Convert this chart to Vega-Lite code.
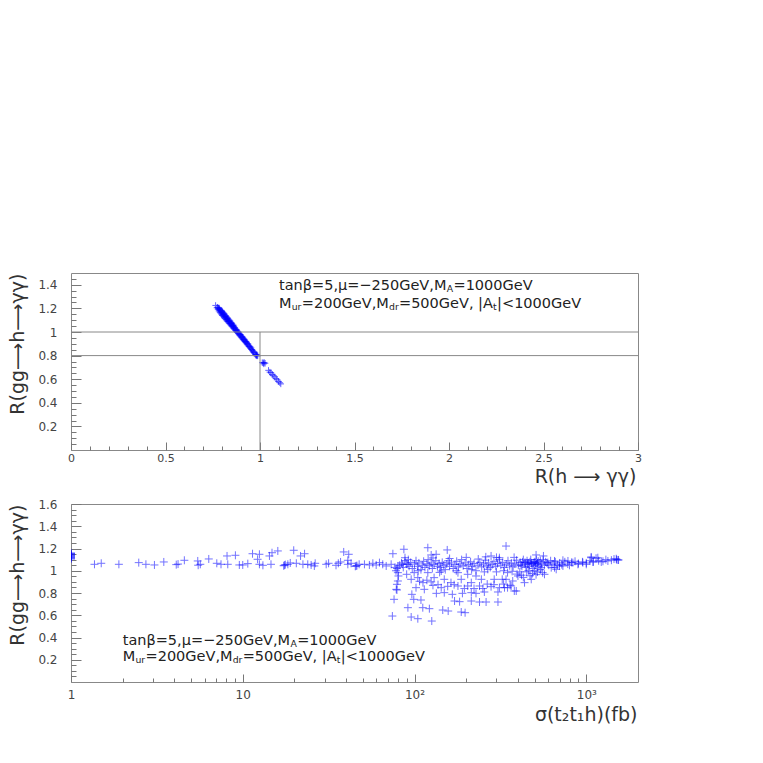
{
"$schema":"https://vega.github.io/schema/vega-lite/v6.json",
"padding":{"left":7,"top":272,"right":5,"bottom":5},
"background":"white",
"spacing":54,
"bounds":"flush",
"config":{"view":{"stroke":"#888","strokeWidth":1},
"axis":{"grid":false,"labelFont":"DejaVu Sans","labelFontSize":12,"labelColor":"#444","titleFont":"DejaVu Sans","titleFontSize":19,"titleFontWeight":"normal","titleColor":"#333","tickColor":"#777","domainColor":"#888","labelFlush":false,"labelOverlap":false}},
"vconcat":[
{"width":567,"height":177,
"resolve":{"axis":{"x":"independent","y":"independent"}},
"layer":[
{"data":{"values":[
{"r_gamma":0.765,"r_gg":1.225},{"r_gamma":0.772,"r_gg":1.205},{"r_gamma":0.775,"r_gg":1.21},{"r_gamma":0.778,"r_gg":1.19},{"r_gamma":0.78,"r_gg":1.2},{"r_gamma":0.782,"r_gg":1.205},{"r_gamma":0.783,"r_gg":1.178},{"r_gamma":0.785,"r_gg":1.2},{"r_gamma":0.786,"r_gg":1.19},{"r_gamma":0.788,"r_gg":1.168},{"r_gamma":0.79,"r_gg":1.18},{"r_gamma":0.792,"r_gg":1.16},{"r_gamma":0.793,"r_gg":1.185},{"r_gamma":0.795,"r_gg":1.172},{"r_gamma":0.797,"r_gg":1.15},{"r_gamma":0.798,"r_gg":1.178},{"r_gamma":0.8,"r_gg":1.165},{"r_gamma":0.8,"r_gg":1.14},{"r_gamma":0.802,"r_gg":1.17},{"r_gamma":0.803,"r_gg":1.155},{"r_gamma":0.805,"r_gg":1.135},{"r_gamma":0.807,"r_gg":1.148},{"r_gamma":0.808,"r_gg":1.16},{"r_gamma":0.81,"r_gg":1.125},{"r_gamma":0.81,"r_gg":1.145},{"r_gamma":0.812,"r_gg":1.152},{"r_gamma":0.813,"r_gg":1.132},{"r_gamma":0.815,"r_gg":1.115},{"r_gamma":0.817,"r_gg":1.128},{"r_gamma":0.818,"r_gg":1.14},{"r_gamma":0.82,"r_gg":1.105},{"r_gamma":0.82,"r_gg":1.122},{"r_gamma":0.822,"r_gg":1.132},{"r_gamma":0.823,"r_gg":1.11},{"r_gamma":0.825,"r_gg":1.095},{"r_gamma":0.827,"r_gg":1.112},{"r_gamma":0.828,"r_gg":1.12},{"r_gamma":0.83,"r_gg":1.088},{"r_gamma":0.83,"r_gg":1.102},{"r_gamma":0.832,"r_gg":1.11},{"r_gamma":0.833,"r_gg":1.092},{"r_gamma":0.835,"r_gg":1.078},{"r_gamma":0.837,"r_gg":1.09},{"r_gamma":0.838,"r_gg":1.1},{"r_gamma":0.84,"r_gg":1.07},{"r_gamma":0.84,"r_gg":1.085},{"r_gamma":0.842,"r_gg":1.092},{"r_gamma":0.843,"r_gg":1.074},{"r_gamma":0.845,"r_gg":1.06},{"r_gamma":0.847,"r_gg":1.072},{"r_gamma":0.848,"r_gg":1.08},{"r_gamma":0.85,"r_gg":1.05},{"r_gamma":0.85,"r_gg":1.065},{"r_gamma":0.852,"r_gg":1.07},{"r_gamma":0.853,"r_gg":1.055},{"r_gamma":0.855,"r_gg":1.042},{"r_gamma":0.857,"r_gg":1.054},{"r_gamma":0.858,"r_gg":1.06},{"r_gamma":0.86,"r_gg":1.032},{"r_gamma":0.86,"r_gg":1.046},{"r_gamma":0.862,"r_gg":1.05},{"r_gamma":0.863,"r_gg":1.036},{"r_gamma":0.865,"r_gg":1.024},{"r_gamma":0.867,"r_gg":1.036},{"r_gamma":0.87,"r_gg":1.014},{"r_gamma":0.87,"r_gg":1.027},{"r_gamma":0.873,"r_gg":1.017},{"r_gamma":0.875,"r_gg":1.005},{"r_gamma":0.877,"r_gg":1.017},{"r_gamma":0.88,"r_gg":0.995},{"r_gamma":0.88,"r_gg":1.008},{"r_gamma":0.883,"r_gg":0.998},{"r_gamma":0.885,"r_gg":0.986},{"r_gamma":0.887,"r_gg":0.998},{"r_gamma":0.89,"r_gg":0.976},{"r_gamma":0.89,"r_gg":0.988},{"r_gamma":0.893,"r_gg":0.978},{"r_gamma":0.895,"r_gg":0.967},{"r_gamma":0.897,"r_gg":0.978},{"r_gamma":0.9,"r_gg":0.958},{"r_gamma":0.9,"r_gg":0.969},{"r_gamma":0.903,"r_gg":0.958},{"r_gamma":0.905,"r_gg":0.948},{"r_gamma":0.907,"r_gg":0.958},{"r_gamma":0.91,"r_gg":0.938},{"r_gamma":0.91,"r_gg":0.95},{"r_gamma":0.913,"r_gg":0.94},{"r_gamma":0.915,"r_gg":0.929},{"r_gamma":0.917,"r_gg":0.938},{"r_gamma":0.92,"r_gg":0.92},{"r_gamma":0.92,"r_gg":0.93},{"r_gamma":0.923,"r_gg":0.92},{"r_gamma":0.925,"r_gg":0.91},{"r_gamma":0.927,"r_gg":0.918},{"r_gamma":0.93,"r_gg":0.9},{"r_gamma":0.93,"r_gg":0.91},{"r_gamma":0.933,"r_gg":0.9},{"r_gamma":0.935,"r_gg":0.89},{"r_gamma":0.937,"r_gg":0.898},{"r_gamma":0.94,"r_gg":0.88},{"r_gamma":0.943,"r_gg":0.882},{"r_gamma":0.945,"r_gg":0.872},{"r_gamma":0.948,"r_gg":0.875},{"r_gamma":0.95,"r_gg":0.862},{"r_gamma":0.953,"r_gg":0.865},{"r_gamma":0.955,"r_gg":0.852},{"r_gamma":0.958,"r_gg":0.85},{"r_gamma":0.96,"r_gg":0.842},{"r_gamma":0.963,"r_gg":0.838},{"r_gamma":0.965,"r_gg":0.83},{"r_gamma":0.968,"r_gg":0.828},{"r_gamma":0.97,"r_gg":0.82},{"r_gamma":0.975,"r_gg":0.81},{"r_gamma":0.978,"r_gg":0.805},{"r_gamma":0.98,"r_gg":0.8},{"r_gamma":0.982,"r_gg":0.803},{"r_gamma":0.985,"r_gg":0.797},{"r_gamma":0.983,"r_gg":0.81},{"r_gamma":0.988,"r_gg":0.8},{"r_gamma":1.012,"r_gg":0.74},{"r_gamma":1.017,"r_gg":0.738},{"r_gamma":1.022,"r_gg":0.742},{"r_gamma":1.027,"r_gg":0.735},{"r_gamma":1.02,"r_gg":0.73},{"r_gamma":1.045,"r_gg":0.675},{"r_gamma":1.052,"r_gg":0.66},{"r_gamma":1.058,"r_gg":0.655},{"r_gamma":1.065,"r_gg":0.64},{"r_gamma":1.07,"r_gg":0.63},{"r_gamma":1.078,"r_gg":0.62},{"r_gamma":1.085,"r_gg":0.605},{"r_gamma":1.09,"r_gg":0.595},{"r_gamma":1.098,"r_gg":0.58},{"r_gamma":1.105,"r_gg":0.57},{"r_gamma":1.11,"r_gg":0.56}
]},
"mark":{"type":"point","shape":"M-1,0L1,0M0,-1L0,1","filled":false,"color":"#0000ff","strokeWidth":1,"size":42,"opacity":0.6},
"encoding":{
"x":{"field":"r_gamma","type":"quantitative","scale":{"domain":[0,3],"nice":false,"zero":false},
 "axis":{"orient":"bottom","values":[0,0.5,1,1.5,2,2.5,3],"format":"~g","ticks":false,"domain":false,"labelPadding":2,"labelFontSize":11,"title":"R(h ⟶ γγ)","titleX":565,"titleY":32,"titleAlign":"right","titleBaseline":"alphabetic"}},
"y":{"field":"r_gg","type":"quantitative","scale":{"domain":[0,1.5],"nice":false,"zero":false},
 "axis":{"orient":"left","values":[0.2,0.4,0.6,0.8,1,1.2,1.4],"format":"~g","ticks":false,"domain":false,"labelPadding":14,"title":"R(gg⟶h⟶γγ)","titleX":-48,"titleY":0,"titleAngle":-90,"titleAlign":"right","titleBaseline":"alphabetic"}}}},
{"data":{"values":[{}]},"mark":{"type":"rule","color":"#888","strokeWidth":1},
 "encoding":{"y":{"datum":1,"axis":{"orient":"left","values":[0.2,0.4,0.6,0.8,1,1.2,1.4],"labels":false,"domain":false,"tickSize":-10,"title":null}}}},
{"data":{"values":[{}]},"mark":{"type":"rule","color":"#888","strokeWidth":1},
 "encoding":{"y":{"datum":0.8,"axis":null}}},
{"data":{"values":[{}]},"mark":{"type":"rule","color":"#888","strokeWidth":1},
 "encoding":{"x":{"datum":1,"axis":{"orient":"bottom","values":[0,0.5,1,1.5,2,2.5,3],"labels":false,"domain":false,"tickSize":-8,"title":null}},
 "y":{"datum":0,"axis":{"orient":"left","values":[0.05,0.1,0.15,0.25,0.3,0.35,0.45,0.5,0.55,0.65,0.7,0.75,0.85,0.9,0.95,1.05,1.1,1.15,1.25,1.3,1.35,1.45],"labels":false,"domain":false,"tickSize":-5,"title":null}},
 "y2":{"datum":1}}},
{"data":{"values":[{}]},"mark":{"type":"text","text":"tanβ=5,μ=−250GeV,M","font":"DejaVu Sans","fontSize":14.5,"align":"left","baseline":"middle","color":"#222","dx":0},
 "encoding":{"x":{"datum":1.1005,"axis":{"orient":"bottom","values":[0.1,0.2,0.3,0.4,0.6,0.7,0.8,0.9,1.1,1.2,1.3,1.4,1.6,1.7,1.8,1.9,2.1,2.2,2.3,2.4,2.6,2.7,2.8,2.9],"labels":false,"domain":false,"tickSize":-4,"title":null}},"y":{"datum":1.39,"axis":null}}},
{"data":{"values":[{}]},"mark":{"type":"text","text":"A","font":"DejaVu Sans","fontSize":9.3,"align":"left","baseline":"middle","color":"#222","dx":167.8,"dy":3},
 "encoding":{"x":{"datum":1.1005,"axis":null},"y":{"datum":1.39,"axis":null}}},
{"data":{"values":[{}]},"mark":{"type":"text","text":"=1000GeV","font":"DejaVu Sans","fontSize":14.5,"align":"left","baseline":"middle","color":"#222","dx":174.5},
 "encoding":{"x":{"datum":1.1005,"axis":null},"y":{"datum":1.39,"axis":null}}},
{"data":{"values":[{}]},"mark":{"type":"text","text":"M","font":"DejaVu Sans","fontSize":14.5,"align":"left","baseline":"middle","color":"#222","dx":0},
 "encoding":{"x":{"datum":1.1005,"axis":null},"y":{"datum":1.237,"axis":null}}},
{"data":{"values":[{}]},"mark":{"type":"text","text":"ur","font":"DejaVu Sans","fontSize":9.3,"align":"left","baseline":"middle","color":"#222","dx":12.7,"dy":3},
 "encoding":{"x":{"datum":1.1005,"axis":null},"y":{"datum":1.237,"axis":null}}},
{"data":{"values":[{}]},"mark":{"type":"text","text":"=200GeV,M","font":"DejaVu Sans","fontSize":14.5,"align":"left","baseline":"middle","color":"#222","dx":22.8},
 "encoding":{"x":{"datum":1.1005,"axis":null},"y":{"datum":1.237,"axis":null}}},
{"data":{"values":[{}]},"mark":{"type":"text","text":"dr","font":"DejaVu Sans","fontSize":9.3,"align":"left","baseline":"middle","color":"#222","dx":110,"dy":3},
 "encoding":{"x":{"datum":1.1005,"axis":null},"y":{"datum":1.237,"axis":null}}},
{"data":{"values":[{}]},"mark":{"type":"text","text":"=500GeV, |A","font":"DejaVu Sans","fontSize":14.5,"align":"left","baseline":"middle","color":"#222","dx":120},
 "encoding":{"x":{"datum":1.1005,"axis":null},"y":{"datum":1.237,"axis":null}}},
{"data":{"values":[{}]},"mark":{"type":"text","text":"t","font":"DejaVu Sans","fontSize":9.3,"align":"left","baseline":"middle","color":"#222","dx":214.1,"dy":3},
 "encoding":{"x":{"datum":1.1005,"axis":null},"y":{"datum":1.237,"axis":null}}},
{"data":{"values":[{}]},"mark":{"type":"text","text":"|<1000GeV","font":"DejaVu Sans","fontSize":14.5,"align":"left","baseline":"middle","color":"#222","dx":218.1},
 "encoding":{"x":{"datum":1.1005,"axis":null},"y":{"datum":1.237,"axis":null}}}
]},
{"width":567,"height":178,
"resolve":{"axis":{"x":"independent","y":"independent"}},
"layer":[
{"data":{"values":[
{"sigma":1.0,"r_gg":1.105},{"sigma":1.0,"r_gg":1.112},{"sigma":1.0,"r_gg":1.118},{"sigma":1.0,"r_gg":1.124},{"sigma":1.0,"r_gg":1.13},{"sigma":1.0,"r_gg":1.136},{"sigma":1.0,"r_gg":1.142},{"sigma":1.0,"r_gg":1.148},{"sigma":1.0,"r_gg":1.155},{"sigma":1.0,"r_gg":1.16},
{"sigma":1.37,"r_gg":1.058},{"sigma":1.5,"r_gg":1.067},{"sigma":1.9,"r_gg":1.058},{"sigma":2.48,"r_gg":1.073},{"sigma":2.73,"r_gg":1.058},{"sigma":3.06,"r_gg":1.052},{"sigma":3.47,"r_gg":1.079},{"sigma":4.1,"r_gg":1.055},{"sigma":4.2,"r_gg":1.06},{"sigma":4.57,"r_gg":1.094},{"sigma":5.47,"r_gg":1.088},{"sigma":5.5,"r_gg":1.05},{"sigma":5.66,"r_gg":1.058},{"sigma":6.34,"r_gg":1.106},{"sigma":7.06,"r_gg":1.067},{"sigma":7.47,"r_gg":1.058},{"sigma":8.18,"r_gg":1.058},{"sigma":8.1,"r_gg":1.133},{"sigma":9.06,"r_gg":1.139},{"sigma":9.55,"r_gg":1.052},{"sigma":10.0,"r_gg":1.052},{"sigma":10.7,"r_gg":1.064},{"sigma":11.4,"r_gg":1.153},{"sigma":12.2,"r_gg":1.103},{"sigma":12.5,"r_gg":1.148},{"sigma":12.5,"r_gg":1.058},{"sigma":13.1,"r_gg":1.049},{"sigma":14.3,"r_gg":1.133},{"sigma":14.8,"r_gg":1.162},{"sigma":14.6,"r_gg":1.058},{"sigma":16.0,"r_gg":1.178},{"sigma":17.3,"r_gg":1.045},{"sigma":17.5,"r_gg":1.05},{"sigma":17.7,"r_gg":1.055},{"sigma":18.3,"r_gg":1.058},{"sigma":18.9,"r_gg":1.07},{"sigma":19.8,"r_gg":1.184},{"sigma":20.5,"r_gg":1.067},{"sigma":21.7,"r_gg":1.133},{"sigma":22.9,"r_gg":1.153},{"sigma":22.4,"r_gg":1.058},{"sigma":23.9,"r_gg":1.058},{"sigma":25.0,"r_gg":1.052},{"sigma":26.4,"r_gg":1.067},{"sigma":26.1,"r_gg":1.043},{"sigma":30.6,"r_gg":1.058},{"sigma":31.6,"r_gg":1.067},{"sigma":34.9,"r_gg":1.049},{"sigma":36.0,"r_gg":1.067},{"sigma":37.1,"r_gg":1.079},{"sigma":38.7,"r_gg":1.169},{"sigma":41.4,"r_gg":1.148},{"sigma":40.9,"r_gg":1.094},{"sigma":40.9,"r_gg":1.058},{"sigma":42.7,"r_gg":1.067},{"sigma":45.2,"r_gg":1.04},{"sigma":45.7,"r_gg":1.043},{"sigma":46.2,"r_gg":1.046},{"sigma":47.6,"r_gg":1.058},{"sigma":51.1,"r_gg":1.058},{"sigma":54.6,"r_gg":1.052},{"sigma":57.2,"r_gg":1.067},{"sigma":59.8,"r_gg":1.052},{"sigma":62.5,"r_gg":1.073},{"sigma":65.3,"r_gg":1.058},{"sigma":68.4,"r_gg":1.043},{"sigma":73.1,"r_gg":1.058},{"sigma":74.8,"r_gg":1.153},{"sigma":80.0,"r_gg":1.043},{"sigma":85.3,"r_gg":1.058},{"sigma":86.7,"r_gg":1.193},{"sigma":88.0,"r_gg":1.117},{"sigma":91.5,"r_gg":1.058},
{"sigma":74.3,"r_gg":0.593},{"sigma":76.0,"r_gg":0.743},{"sigma":78.3,"r_gg":0.833},{"sigma":80,"r_gg":0.908},{"sigma":80.6,"r_gg":0.953},{"sigma":80,"r_gg":0.983},{"sigma":79,"r_gg":0.878},{"sigma":79,"r_gg":0.827},{"sigma":78,"r_gg":1.0},{"sigma":79,"r_gg":1.02},{"sigma":77,"r_gg":1.03},
{"sigma":119.5,"r_gg":1.207},{"sigma":133.6,"r_gg":1.148},{"sigma":125,"r_gg":1.142},{"sigma":155,"r_gg":1.187},{"sigma":341,"r_gg":1.222},{"sigma":279,"r_gg":1.133},{"sigma":312,"r_gg":1.117},
{"sigma":91.5,"r_gg":0.668},{"sigma":95.6,"r_gg":0.584},{"sigma":104.5,"r_gg":0.569},{"sigma":96.5,"r_gg":0.788},{"sigma":99,"r_gg":0.743},{"sigma":109,"r_gg":0.737},{"sigma":111.7,"r_gg":0.668},{"sigma":122,"r_gg":0.659},{"sigma":126,"r_gg":0.548},{"sigma":146,"r_gg":0.647},{"sigma":157,"r_gg":0.638},{"sigma":171,"r_gg":0.728},{"sigma":183,"r_gg":0.722},{"sigma":187,"r_gg":0.629},{"sigma":197,"r_gg":0.623},{"sigma":214,"r_gg":0.728},{"sigma":239,"r_gg":0.719},{"sigma":261,"r_gg":0.719},{"sigma":306,"r_gg":0.719},
{"sigma":134,"r_gg":0.797},{"sigma":149,"r_gg":0.803},{"sigma":166,"r_gg":0.788},{"sigma":190,"r_gg":0.797},{"sigma":214,"r_gg":0.803},{"sigma":228,"r_gg":0.797},{"sigma":255,"r_gg":0.809},{"sigma":306,"r_gg":0.809},
{"sigma":114,"r_gg":0.833},{"sigma":112,"r_gg":0.893},{"sigma":102,"r_gg":0.848},{"sigma":128,"r_gg":0.869},{"sigma":143,"r_gg":0.848},{"sigma":179,"r_gg":0.863},{"sigma":187,"r_gg":0.923},{"sigma":204,"r_gg":0.863},{"sigma":239,"r_gg":0.863},{"sigma":279,"r_gg":0.857},{"sigma":291,"r_gg":0.923},{"sigma":324,"r_gg":0.923},{"sigma":348,"r_gg":0.848},{"sigma":312,"r_gg":0.848},{"sigma":391,"r_gg":0.818},{"sigma":373,"r_gg":0.908},{"sigma":400,"r_gg":0.953},{"sigma":348,"r_gg":0.983},{"sigma":267,"r_gg":1.013},{"sigma":228,"r_gg":0.953},{"sigma":214,"r_gg":0.893},{"sigma":163,"r_gg":0.893},{"sigma":149,"r_gg":0.923},{"sigma":130,"r_gg":0.938},{"sigma":104.5,"r_gg":0.938},{"sigma":95.6,"r_gg":0.923},{"sigma":90,"r_gg":0.968},{"sigma":99.5,"r_gg":0.983},{"sigma":119.5,"r_gg":0.983},{"sigma":143,"r_gg":0.998},{"sigma":179,"r_gg":0.983},{"sigma":204,"r_gg":0.968},{"sigma":245,"r_gg":0.923},
{"sigma":107,"r_gg":0.905},{"sigma":118,"r_gg":0.915},{"sigma":125,"r_gg":0.9},{"sigma":137,"r_gg":0.875},{"sigma":156,"r_gg":0.86},{"sigma":170,"r_gg":0.875},{"sigma":195,"r_gg":0.84},{"sigma":222,"r_gg":0.84},{"sigma":250,"r_gg":0.84},{"sigma":265,"r_gg":0.88},{"sigma":290,"r_gg":0.875},{"sigma":330,"r_gg":0.88},{"sigma":360,"r_gg":0.87},
{"sigma":82,"r_gg":1.05},{"sigma":84,"r_gg":1.07},{"sigma":86,"r_gg":1.03},{"sigma":88,"r_gg":1.09},{"sigma":90,"r_gg":1.06},{"sigma":93,"r_gg":1.04},{"sigma":95,"r_gg":1.075},{"sigma":97,"r_gg":1.02},{"sigma":100,"r_gg":1.06},{"sigma":102,"r_gg":1.09},{"sigma":104,"r_gg":1.04},{"sigma":106,"r_gg":1.07},{"sigma":109,"r_gg":1.01},{"sigma":111,"r_gg":1.05},{"sigma":113,"r_gg":1.085},{"sigma":115,"r_gg":1.03},{"sigma":118,"r_gg":1.06},{"sigma":120,"r_gg":1.1},{"sigma":122,"r_gg":1.045},{"sigma":125,"r_gg":1.07},{"sigma":127,"r_gg":1.02},{"sigma":130,"r_gg":1.055},{"sigma":133,"r_gg":1.09},{"sigma":136,"r_gg":1.04},{"sigma":139,"r_gg":1.065},{"sigma":142,"r_gg":1.03},{"sigma":145,"r_gg":1.075},{"sigma":148,"r_gg":1.05},{"sigma":151,"r_gg":1.01},{"sigma":154,"r_gg":1.06},{"sigma":157,"r_gg":1.09},{"sigma":160,"r_gg":1.04},{"sigma":164,"r_gg":1.07},{"sigma":168,"r_gg":1.02},{"sigma":172,"r_gg":1.055},{"sigma":176,"r_gg":1.085},{"sigma":180,"r_gg":1.035},{"sigma":184,"r_gg":1.06},{"sigma":188,"r_gg":1.1},{"sigma":192,"r_gg":1.045},{"sigma":197,"r_gg":1.07},{"sigma":202,"r_gg":1.02},{"sigma":207,"r_gg":1.055},{"sigma":212,"r_gg":1.08},{"sigma":217,"r_gg":1.04},{"sigma":222,"r_gg":1.065},{"sigma":228,"r_gg":1.0},{"sigma":234,"r_gg":1.05},{"sigma":240,"r_gg":1.075},{"sigma":246,"r_gg":1.035},{"sigma":252,"r_gg":1.06},{"sigma":258,"r_gg":1.095},{"sigma":264,"r_gg":1.045},{"sigma":270,"r_gg":1.07},{"sigma":276,"r_gg":1.03},{"sigma":283,"r_gg":1.055},{"sigma":290,"r_gg":1.085},{"sigma":297,"r_gg":1.04},{"sigma":304,"r_gg":1.065},{"sigma":311,"r_gg":1.1},{"sigma":318,"r_gg":1.05},{"sigma":326,"r_gg":1.075},{"sigma":334,"r_gg":1.03},{"sigma":342,"r_gg":1.06},{"sigma":350,"r_gg":1.09},{"sigma":358,"r_gg":1.045},{"sigma":366,"r_gg":1.07},{"sigma":375,"r_gg":1.035},{"sigma":384,"r_gg":1.06},{"sigma":393,"r_gg":1.095},{"sigma":402,"r_gg":1.05},{"sigma":412,"r_gg":1.075},{"sigma":422,"r_gg":1.04},
{"sigma":92,"r_gg":1.1},{"sigma":128,"r_gg":1.115},{"sigma":160,"r_gg":1.11},{"sigma":200,"r_gg":1.12},{"sigma":235,"r_gg":1.105},{"sigma":260,"r_gg":1.125},{"sigma":300,"r_gg":1.12},{"sigma":380,"r_gg":1.12},{"sigma":105,"r_gg":1.0},{"sigma":140,"r_gg":0.985},{"sigma":175,"r_gg":1.0},{"sigma":215,"r_gg":1.01},{"sigma":255,"r_gg":0.99},{"sigma":300,"r_gg":0.99},{"sigma":330,"r_gg":1.0},{"sigma":370,"r_gg":0.995},
{"sigma":510,"r_gg":1.142},{"sigma":563,"r_gg":1.133},{"sigma":1068,"r_gg":1.124},{"sigma":1140,"r_gg":1.112},{"sigma":1528,"r_gg":1.097},
{"sigma":417,"r_gg":1.05},{"sigma":425,"r_gg":1.08},{"sigma":430,"r_gg":1.1},{"sigma":440,"r_gg":1.06},{"sigma":445,"r_gg":1.03},{"sigma":452,"r_gg":1.09},{"sigma":460,"r_gg":1.07},{"sigma":468,"r_gg":1.04},{"sigma":475,"r_gg":1.1},{"sigma":483,"r_gg":1.06},{"sigma":490,"r_gg":1.02},{"sigma":498,"r_gg":1.08},{"sigma":505,"r_gg":1.05},{"sigma":512,"r_gg":1.1},{"sigma":520,"r_gg":1.07},{"sigma":530,"r_gg":1.04},{"sigma":540,"r_gg":1.09},{"sigma":550,"r_gg":1.06},{"sigma":560,"r_gg":1.1},{"sigma":570,"r_gg":1.05},{"sigma":580,"r_gg":1.08},{"sigma":590,"r_gg":1.07},{"sigma":605,"r_gg":1.05},{"sigma":620,"r_gg":1.09},{"sigma":640,"r_gg":1.06},{"sigma":660,"r_gg":1.08},{"sigma":680,"r_gg":1.05},{"sigma":700,"r_gg":1.07},{"sigma":720,"r_gg":1.055},{"sigma":750,"r_gg":1.08},{"sigma":780,"r_gg":1.06},{"sigma":820,"r_gg":1.075},{"sigma":860,"r_gg":1.085},{"sigma":900,"r_gg":1.065},{"sigma":950,"r_gg":1.08},{"sigma":1000,"r_gg":1.07},{"sigma":1050,"r_gg":1.09},{"sigma":1100,"r_gg":1.08},{"sigma":1180,"r_gg":1.09},{"sigma":1250,"r_gg":1.085},{"sigma":1300,"r_gg":1.1},{"sigma":1400,"r_gg":1.095},{"sigma":1450,"r_gg":1.105},{"sigma":1500,"r_gg":1.1},{"sigma":1541,"r_gg":1.097},{"sigma":1494,"r_gg":1.108},
{"sigma":653,"r_gg":1.028},{"sigma":698,"r_gg":1.043},{"sigma":731,"r_gg":1.094},{"sigma":782,"r_gg":1.088},{"sigma":798,"r_gg":1.049},{"sigma":835,"r_gg":1.073},{"sigma":894,"r_gg":1.058},{"sigma":955,"r_gg":1.073},{"sigma":1000,"r_gg":1.058},{"sigma":1068,"r_gg":1.117},{"sigma":1092,"r_gg":1.079},{"sigma":1167,"r_gg":1.117},{"sigma":1222,"r_gg":1.079},{"sigma":1336,"r_gg":1.088},{"sigma":731,"r_gg":1.043},{"sigma":653,"r_gg":1.088},{"sigma":597,"r_gg":1.073},{"sigma":625,"r_gg":1.028},{"sigma":668,"r_gg":1.013},{"sigma":546,"r_gg":1.028},{"sigma":381,"r_gg":0.818},{"sigma":437,"r_gg":0.893},{"sigma":365,"r_gg":0.863},{"sigma":341,"r_gg":0.923},{"sigma":334,"r_gg":0.848},{"sigma":478,"r_gg":0.923},{"sigma":571,"r_gg":0.968},{"sigma":557,"r_gg":0.983},
{"sigma":420,"r_gg":0.96},{"sigma":450,"r_gg":0.99},{"sigma":470,"r_gg":0.955},{"sigma":500,"r_gg":1.0},{"sigma":520,"r_gg":0.99},{"sigma":540,"r_gg":1.01},{"sigma":460,"r_gg":1.0},{"sigma":410,"r_gg":0.99},{"sigma":395,"r_gg":0.97},{"sigma":430,"r_gg":0.94},{"sigma":485,"r_gg":0.975},{"sigma":510,"r_gg":0.965},
{"sigma":440,"r_gg":1.075},{"sigma":455,"r_gg":1.06},{"sigma":470,"r_gg":1.08},{"sigma":480,"r_gg":1.07},{"sigma":495,"r_gg":1.065},{"sigma":505,"r_gg":1.075},{"sigma":515,"r_gg":1.06},{"sigma":525,"r_gg":1.085}
]},
"mark":{"type":"point","shape":"M-1,0L1,0M0,-1L0,1","filled":false,"color":"#0000ff","strokeWidth":1,"size":64,"opacity":0.55,"clip":true},
"encoding":{
"x":{"field":"sigma","type":"quantitative","scale":{"type":"log","domain":[1,2000],"nice":false},
 "axis":{"orient":"bottom","values":[1,10,100,1000],"labelExpr":"datum.value >= 1000 ? '10³' : datum.value >= 100 ? '10²' : datum.value >= 10 ? '10' : '1'","ticks":false,"domain":false,"labelPadding":7,"title":"σ(t₂t₁h)(fb)","titleX":566,"titleY":38,"titleAlign":"right","titleBaseline":"alphabetic"}},
"y":{"field":"r_gg","type":"quantitative","scale":{"domain":[0,1.6],"nice":false,"zero":false},
 "axis":{"orient":"left","values":[0.2,0.4,0.6,0.8,1,1.2,1.4,1.6],"format":"~g","ticks":false,"domain":false,"labelPadding":14,"title":"R(gg⟶h⟶γγ)","titleX":-48,"titleY":0,"titleAngle":-90,"titleAlign":"right","titleBaseline":"alphabetic"}}}},
{"data":{"values":[{}]},"mark":{"type":"text","text":"tanβ=5,μ=−250GeV,M","font":"DejaVu Sans","fontSize":14.5,"align":"left","baseline":"middle","color":"#222","dx":0},
 "encoding":{"x":{"datum":2,"axis":{"orient":"bottom","values":[1,10,100,1000],"labels":false,"domain":false,"tickSize":-8,"title":null}},"y":{"datum":0.3685,"axis":{"orient":"left","values":[0.2,0.4,0.6,0.8,1,1.2,1.4,1.6],"labels":false,"domain":false,"tickSize":-10,"title":null}}}},
{"data":{"values":[{}]},"mark":{"type":"text","text":"A","font":"DejaVu Sans","fontSize":9.3,"align":"left","baseline":"middle","color":"#222","dx":167.8,"dy":3},
 "encoding":{"x":{"datum":2,"axis":{"orient":"bottom","values":[2,3,4,5,6,7,8,9,20,30,40,50,60,70,80,90,200,300,400,500,600,700,800,900],"labels":false,"domain":false,"tickSize":-4,"title":null}},"y":{"datum":0.3685,"axis":{"orient":"left","values":[0.05,0.1,0.15,0.25,0.3,0.35,0.45,0.5,0.55,0.65,0.7,0.75,0.85,0.9,0.95,1.05,1.1,1.15,1.25,1.3,1.35,1.45,1.5,1.55],"labels":false,"domain":false,"tickSize":-5,"title":null}}}},
{"data":{"values":[{}]},"mark":{"type":"text","text":"=1000GeV","font":"DejaVu Sans","fontSize":14.5,"align":"left","baseline":"middle","color":"#222","dx":174.5},
 "encoding":{"x":{"datum":2,"axis":null},"y":{"datum":0.3685,"axis":null}}},
{"data":{"values":[{}]},"mark":{"type":"text","text":"M","font":"DejaVu Sans","fontSize":14.5,"align":"left","baseline":"middle","color":"#222","dx":0},
 "encoding":{"x":{"datum":2,"axis":null},"y":{"datum":0.227,"axis":null}}},
{"data":{"values":[{}]},"mark":{"type":"text","text":"ur","font":"DejaVu Sans","fontSize":9.3,"align":"left","baseline":"middle","color":"#222","dx":12.7,"dy":3},
 "encoding":{"x":{"datum":2,"axis":null},"y":{"datum":0.227,"axis":null}}},
{"data":{"values":[{}]},"mark":{"type":"text","text":"=200GeV,M","font":"DejaVu Sans","fontSize":14.5,"align":"left","baseline":"middle","color":"#222","dx":22.8},
 "encoding":{"x":{"datum":2,"axis":null},"y":{"datum":0.227,"axis":null}}},
{"data":{"values":[{}]},"mark":{"type":"text","text":"dr","font":"DejaVu Sans","fontSize":9.3,"align":"left","baseline":"middle","color":"#222","dx":110,"dy":3},
 "encoding":{"x":{"datum":2,"axis":null},"y":{"datum":0.227,"axis":null}}},
{"data":{"values":[{}]},"mark":{"type":"text","text":"=500GeV, |A","font":"DejaVu Sans","fontSize":14.5,"align":"left","baseline":"middle","color":"#222","dx":120},
 "encoding":{"x":{"datum":2,"axis":null},"y":{"datum":0.227,"axis":null}}},
{"data":{"values":[{}]},"mark":{"type":"text","text":"t","font":"DejaVu Sans","fontSize":9.3,"align":"left","baseline":"middle","color":"#222","dx":214.1,"dy":3},
 "encoding":{"x":{"datum":2,"axis":null},"y":{"datum":0.227,"axis":null}}},
{"data":{"values":[{}]},"mark":{"type":"text","text":"|<1000GeV","font":"DejaVu Sans","fontSize":14.5,"align":"left","baseline":"middle","color":"#222","dx":218.1},
 "encoding":{"x":{"datum":2,"axis":null},"y":{"datum":0.227,"axis":null}}}
]}
]}
